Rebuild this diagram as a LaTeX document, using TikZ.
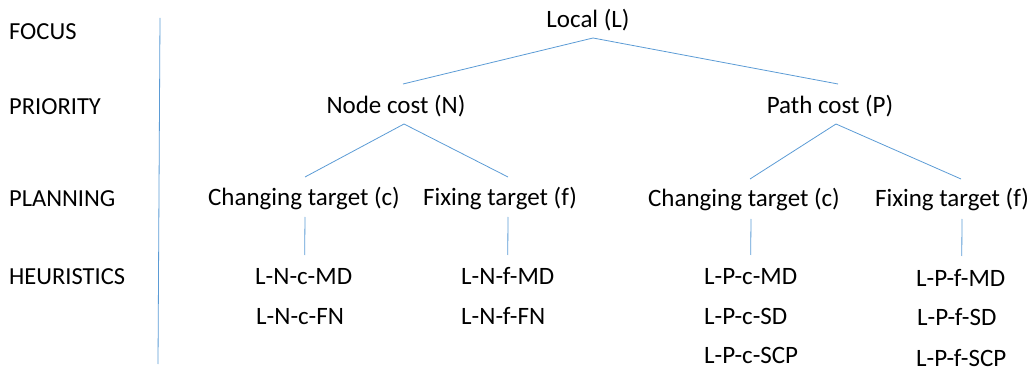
\documentclass[tikz,border=0pt]{standalone}
\usepackage{fontspec}
\setmainfont{Carlito}
\definecolor{linkblue}{HTML}{5B9BD5}
\begin{document}
\begin{tikzpicture}[x=1pt,y=-1pt,
  lbl/.style={inner sep=0pt, anchor=base west, font=\fontsize{24.5}{28}\selectfont},
  cat/.style={inner sep=0pt, anchor=base, font=\fontsize{25}{28}\selectfont},
  heur/.style={inner sep=0pt, anchor=base west, text depth=0pt, font=\fontsize{25}{28}\selectfont},
  link/.style={draw=linkblue, line width=0.8pt}]
\useasboundingbox (0,0) rectangle (1033,371);
% level labels
\node[lbl] (focus) at (9,40) {FOCUS};
\node[lbl] (prio) at (9,115) {PRIORITY};
\node[lbl] (plan) at (9,207) {PLANNING};
\node[lbl] (heu) at (9,284) {HEURISTICS};
\coordinate (sepTop) at (160,18);
\coordinate (sepBot) at (158,364);
\draw[link] (sepTop) -- (sepBot);
% tree
\node[cat] (L) at (588,28) {Local (L)};
\node[cat] (N) at (396,114) {Node cost (N)};
\node[cat] (P) at (830,114) {Path cost (P)};
\node[cat] (Nc) at (304,206) {Changing target (c)};
\node[cat] (Nf) at (500,206) {Fixing target (f)};
\node[cat] (Pc) at (744,207) {Changing target (c)};
\node[cat] (Pf) at (952,207) {Fixing target (f)};
\node[heur] (NcMD) at (255,285) {L-N-c-MD};
\node[heur] (NcFN) at (256,324) {L-N-c-FN};
\node[heur] (NfMD) at (461,285) {L-N-f-MD};
\node[heur] (NfFN) at (461,324) {L-N-f-FN};
\node[heur] (PcMD) at (704,285) {L-P-c-MD};
\node[heur] (PcSD) at (704,324) {L-P-c-SD};
\node[heur] (PcSCP) at (704,363) {L-P-c-SCP};
\node[heur] (PfMD) at (916,287) {L-P-f-MD};
\node[heur] (PfSD) at (917,325) {L-P-f-SD};
\node[heur] (PfSCP) at (916,366) {L-P-f-SCP};
% connectors
\draw[link] ([xshift=5pt,yshift=-10pt]L.base) -- ([xshift=7pt,yshift=30pt]N.base);
\draw[link] ([xshift=5pt,yshift=-10pt]L.base) -- ([xshift=8pt,yshift=30pt]P.base);
\draw[link] ([xshift=8pt,yshift=-10pt]N.base) -- ([xshift=1pt,yshift=29pt]Nc.base);
\draw[link] ([xshift=8pt,yshift=-10pt]N.base) -- ([xshift=8pt,yshift=29pt]Nf.base);
\draw[link] ([xshift=6pt,yshift=-10pt]P.base) -- ([xshift=6pt,yshift=28pt]Pc.base);
\draw[link] ([xshift=6pt,yshift=-10pt]P.base) -- ([xshift=9pt,yshift=28pt]Pf.base);
\draw[link] ([xshift=1pt,yshift=-11pt]Nc.base) -- ([xshift=1pt,yshift=30pt]NcMD.base);
\draw[link] ([xshift=8pt,yshift=-11pt]Nf.base) -- ([xshift=0pt,yshift=30pt]NfMD.base);
\draw[link] ([xshift=7pt,yshift=-12pt]Pc.base) -- ([xshift=0pt,yshift=30pt]PcMD.base);
\draw[link] ([xshift=10pt,yshift=-12pt]Pf.base) -- ([xshift=1pt,yshift=31pt]PfMD.base);
\end{tikzpicture}
\end{document}
